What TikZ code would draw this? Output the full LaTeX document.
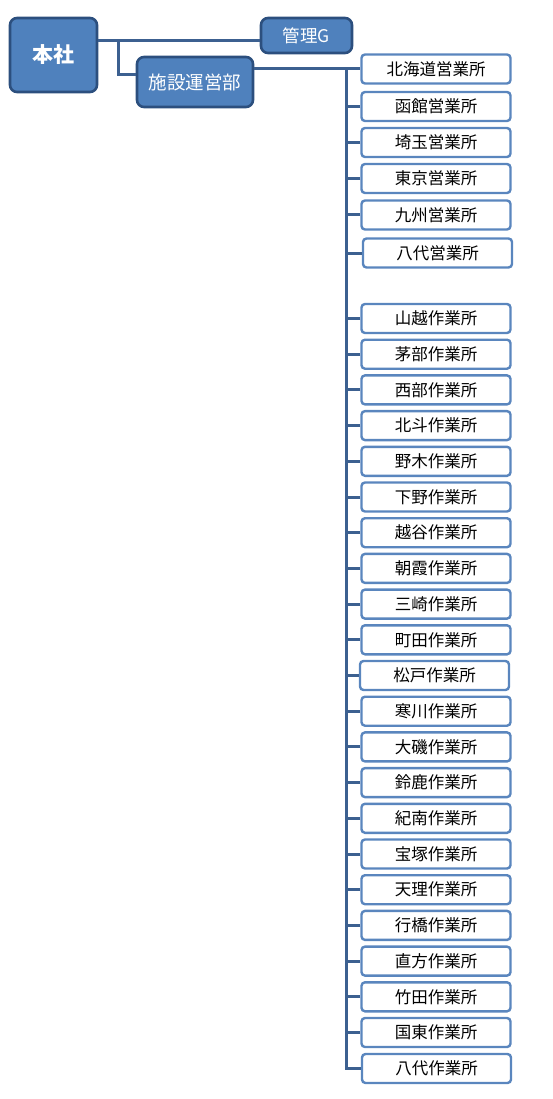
\documentclass[tikz,border=0pt]{standalone}
\usepackage{fontspec}
\setmainfont{Noto Sans CJK JP}
\usepackage{tikz}

\definecolor{headblue}{HTML}{4F81BD}
\definecolor{headline}{HTML}{2C4F7E}
\definecolor{linkblue}{HTML}{3C6090}
\definecolor{officeline}{HTML}{5A86BE}

\begin{document}
\begin{tikzpicture}[x=1pt, y=-1pt,
		head/.style={draw=headline, fill=headblue, text=white, line width=2.6pt, rounded corners=7pt, inner sep=0pt},
		office/.style={draw=officeline, fill=white, line width=2.4pt, rounded corners=3.5pt, minimum width=149pt, minimum height=29pt, inner sep=0pt, font=\fontsize{16.5}{17}\selectfont},
		link/.style={draw=linkblue, line width=3pt}]
						\useasboundingbox (0,0) rectangle (552,1099);
						\node[head, minimum width=87pt, minimum height=74pt, font=\fontsize{21}{22}\selectfont\bfseries] (honsha) at (53.5, 55) {本社};
						\node[head, minimum width=91pt, minimum height=35pt, font=\fontsize{17.5}{18}\selectfont] (kanri) at (306.5, 35.5) {管理G};
						\node[head, minimum width=116pt, minimum height=50pt, font=\fontsize{18.5}{19}\selectfont] (shisetsu) at (195, 82) {施設運営部};
						\node[office] (o1) at (436, 69) {北海道営業所};
						\node[office] (o2) at (436, 106.5) {函館営業所};
						\node[office] (o3) at (436, 142.5) {埼玉営業所};
						\node[office] (o4) at (436, 178.5) {東京営業所};
						\node[office] (o5) at (436, 215) {九州営業所};
						\node[office] (o6) at (437.5, 253) {八代営業所};
						\node[office] (o7) at (436, 318.5) {山越作業所};
						\node[office] (o8) at (436, 354.2) {茅部作業所};
						\node[office] (o9) at (436, 389.9) {西部作業所};
						\node[office] (o10) at (436, 425.6) {北斗作業所};
						\node[office] (o11) at (436, 461.3) {野木作業所};
						\node[office] (o12) at (436, 497) {下野作業所};
						\node[office] (o13) at (436, 532.7) {越谷作業所};
						\node[office] (o14) at (436, 568.4) {朝霞作業所};
						\node[office] (o15) at (436, 604.1) {三崎作業所};
						\node[office] (o16) at (436, 639.8) {町田作業所};
						\node[office] (o17) at (434.5, 675.5) {松戸作業所};
						\node[office] (o18) at (436, 711.2) {寒川作業所};
						\node[office] (o19) at (436, 746.9) {大磯作業所};
						\node[office] (o20) at (436, 782.6) {鈴鹿作業所};
						\node[office] (o21) at (436, 818.3) {紀南作業所};
						\node[office] (o22) at (436, 854) {宝塚作業所};
						\node[office] (o23) at (436, 889.7) {天理作業所};
						\node[office] (o24) at (436, 925.4) {行橋作業所};
						\node[office] (o25) at (436, 961.1) {直方作業所};
						\node[office] (o26) at (436, 996.8) {竹田作業所};
						\node[office] (o27) at (436, 1032.5) {国東作業所};
						\node[office] (o28) at (436.5, 1068.5) {八代作業所};
						\coordinate (j1) at (118, 41);
						\coordinate (j2) at (118, 75);
						\coordinate (t) at (346, 69);
						\draw[link] (honsha.east |- j1) -- (kanri.west |- j1);
						\draw[link] (j1) -- (j2) -- (shisetsu.west |- j2);
						\draw[link] (shisetsu.east |- o1.west) -- (o1.west);
						\draw[link] (t) |- (o28.west);
						\draw[link] (o2.west) -- (o2.west -| t);
						\draw[link] (o3.west) -- (o3.west -| t);
						\draw[link] (o4.west) -- (o4.west -| t);
						\draw[link] (o5.west) -- (o5.west -| t);
						\draw[link] (o6.west) -- (o6.west -| t);
						\draw[link] (o7.west) -- (o7.west -| t);
						\draw[link] (o8.west) -- (o8.west -| t);
						\draw[link] (o9.west) -- (o9.west -| t);
						\draw[link] (o10.west) -- (o10.west -| t);
						\draw[link] (o11.west) -- (o11.west -| t);
						\draw[link] (o12.west) -- (o12.west -| t);
						\draw[link] (o13.west) -- (o13.west -| t);
						\draw[link] (o14.west) -- (o14.west -| t);
						\draw[link] (o15.west) -- (o15.west -| t);
						\draw[link] (o16.west) -- (o16.west -| t);
						\draw[link] (o17.west) -- (o17.west -| t);
						\draw[link] (o18.west) -- (o18.west -| t);
						\draw[link] (o19.west) -- (o19.west -| t);
						\draw[link] (o20.west) -- (o20.west -| t);
						\draw[link] (o21.west) -- (o21.west -| t);
						\draw[link] (o22.west) -- (o22.west -| t);
						\draw[link] (o23.west) -- (o23.west -| t);
						\draw[link] (o24.west) -- (o24.west -| t);
						\draw[link] (o25.west) -- (o25.west -| t);
						\draw[link] (o26.west) -- (o26.west -| t);
						\draw[link] (o27.west) -- (o27.west -| t);
					\end{tikzpicture}
\end{document}
